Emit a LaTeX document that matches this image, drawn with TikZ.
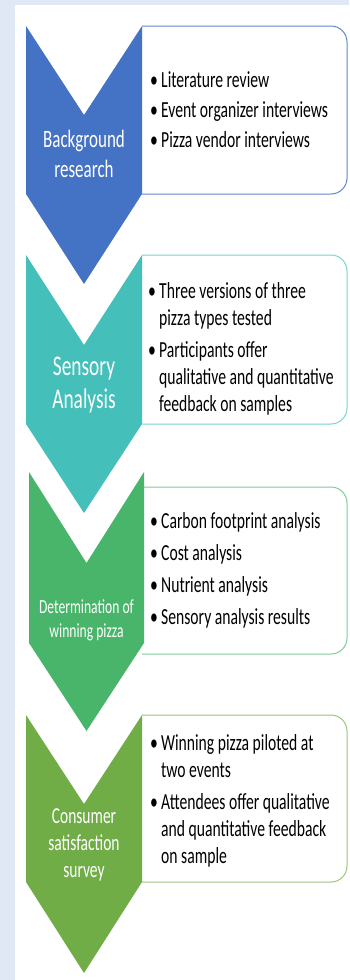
\documentclass[tikz,border=0pt]{standalone}
\usepackage{fontspec}
\setmainfont{Carlito}[FakeStretch=0.68]
\usepackage{xcolor}
\usepackage{tikz}

\definecolor{stepblue}{HTML}{4472C4}
\definecolor{stepteal}{HTML}{45BFB9}
\definecolor{stepgreen}{HTML}{48B56A}
\definecolor{stepolive}{HTML}{70AD47}
\definecolor{pagebg}{HTML}{DFE8F4}
\newcommand{\bul}{\makebox[11pt][l]{\textbullet}}

\begin{document}
\begin{tikzpicture}[x=1pt, y=-1pt,
  lab/.style={anchor=base, inner sep=0pt, text=white},
  list/.style={anchor=base west, inner sep=0pt, font=\fontsize{23}{27}\selectfont},
  card/.style={fill=white, line width=1pt, rounded corners=16pt}]
\useasboundingbox (0,0) rectangle (349,980);
% page
\fill[pagebg] (0,0) rectangle (349,980);
\fill[white] (15,5) rectangle (349,980);

% Background research
\draw[card, draw=stepblue!85] (142,26) -- (347,26) -- (347,194) -- (142,194);
\fill[stepblue] (26,26) -- (84,115) -- (142,26) -- (142,194) -- (84,284) -- (26,194) -- cycle;
\node[lab, font=\fontsize{25}{30}\selectfont] (bg) at (84,147)
  {\begin{tabular}[t]{@{}c@{}}Background\\research\end{tabular}};
\node[list] (bglist) at (150,87) {\begin{tabular}[t]{@{}l@{}l@{}}
  \bul & Literature review\\[3pt]
  \bul & Event organizer interviews\\[3pt]
  \bul & Pizza vendor interviews
\end{tabular}};

% Sensory analysis
\draw[card, draw=stepteal!70] (142,255) -- (347,255) -- (347,424) -- (142,424);
\fill[stepteal] (26,255) -- (84,345) -- (142,255) -- (142,424) -- (84,513) -- (26,424) -- cycle;
\node[lab, font=\fontsize{28.5}{33}\selectfont] (sens) at (84,375)
  {\begin{tabular}[t]{@{}c@{}}Sensory\\Analysis\end{tabular}};
\node[list] (senslist) at (148,298) {\begin{tabular}[t]{@{}l@{}l@{}}
  \bul & Three versions of three\\
       & pizza types tested\\[5pt]
  \bul & Participants offer\\
       & qualitative and quantitative\\
       & feedback on samples
\end{tabular}};

% Winning pizza
\draw[card, draw=stepgreen!70] (142,487) -- (347,487) -- (347,654) -- (142,654);
\fill[stepgreen] (29,472) -- (86.5,563) -- (144,472) -- (144,643) -- (86.5,731) -- (29,643) -- cycle;
\node[lab, font=\fontsize{20}{24}\selectfont] (det) at (86.5,613)
  {\begin{tabular}[t]{@{}c@{}}Determination of\\winning pizza\end{tabular}};
\node[list] (detlist) at (150,528) {\begin{tabular}[t]{@{}l@{}l@{}}
  \bul & Carbon footprint analysis\\[5pt]
  \bul & Cost analysis\\[5pt]
  \bul & Nutrient analysis\\[5pt]
  \bul & Sensory analysis results
\end{tabular}};

% Consumer survey
\draw[card, draw=stepolive!70] (142,715) -- (347,715) -- (347,882) -- (142,882);
\fill[stepolive] (26,715) -- (84,804) -- (142,715) -- (142,882) -- (84,973) -- (26,882) -- cycle;
\node[lab, font=\fontsize{22.8}{27}\selectfont] (cons) at (84,823)
  {\begin{tabular}[t]{@{}c@{}}Consumer\\satisfaction\\survey\end{tabular}};
\node[list] (conslist) at (150,750) {\begin{tabular}[t]{@{}l@{}l@{}}
  \bul & Winning pizza piloted at\\
       & two events\\[5pt]
  \bul & Attendees offer qualitative\\
       & and quantitative feedback\\
       & on sample
\end{tabular}};
\end{tikzpicture}
\end{document}
